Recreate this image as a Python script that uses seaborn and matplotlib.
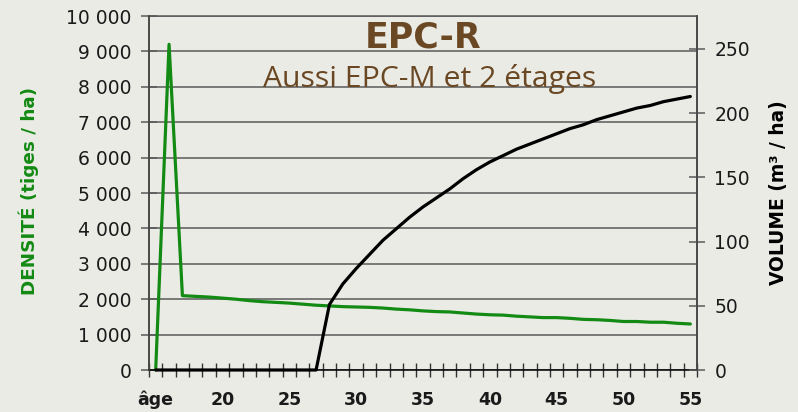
import numpy as np
import pandas as pd
import seaborn as sns
import matplotlib.pyplot as plt
from matplotlib.ticker import FixedLocator, FuncFormatter

# Data
age = [15, 16, 17, 18, 19, 20, 21, 22, 23, 24, 25, 26, 27, 28, 29, 30, 31, 32, 33, 34,
       35, 36, 37, 38, 39, 40, 41, 42, 43, 44, 45, 46, 47, 48, 49, 50, 51, 52, 53, 54, 55]
densite = [0, 9200, 2100, 2080, 2060, 2030, 2000, 1960, 1930, 1910, 1890, 1860, 1830,
           1810, 1790, 1780, 1770, 1750, 1720, 1700, 1670, 1650, 1640, 1610, 1580, 1560,
           1550, 1520, 1500, 1480, 1480, 1460, 1430, 1420, 1400, 1370, 1370, 1350, 1350,
           1320, 1300]
volume = [0, 0, 0, 0, 0, 0, 0, 0, 0, 0, 0, 0, 0,
          51, 67, 79, 90, 101, 110, 119, 127, 134, 141, 149, 156, 162,
          167, 172, 176, 180, 184, 188, 191, 195, 198, 201, 204, 206, 209, 211, 213]
x_labels = {15: "âge", 20: "20", 25: "25", 30: "30", 35: "35",
            40: "40", 45: "45", 50: "50", 55: "55"}

df = pd.DataFrame({"age": age, "densite": densite, "volume": volume})

BG = "#ebebe6"
GREEN = "#138a13"
BROWN = "#6b4824"
GRID = "#5a5a5a"

sns.set_style("white", {"axes.facecolor": BG, "figure.facecolor": BG})
plt.rcParams["font.family"] = ["DejaVu Sans"]

fig = plt.figure(figsize=(7.98, 4.12), dpi=100)
ax = fig.add_axes([149 / 798, 1 - 370 / 412, 548 / 798, 354 / 412])
ax2 = ax.twinx()

sns.lineplot(data=df, x="age", y="densite", ax=ax, color=GREEN, linewidth=2.3)
sns.lineplot(data=df, x="age", y="volume", ax=ax2, color="black", linewidth=2.3)
for a in (ax, ax2):
    for ln in a.get_lines():
        ln.set_clip_on(False)
        ln.set_zorder(3)

# axis ranges (category style x axis)
ax.set_xlim(14.5, 55.5)
ax.set_ylim(0, 10000)
ax2.set_ylim(0, 275.7)

# left axis
ax.yaxis.set_major_locator(FixedLocator(np.arange(0, 10001, 1000)))
ax.yaxis.set_major_formatter(FuncFormatter(lambda v, p: f"{int(v):,}".replace(",", " ")))
ax.grid(axis="y", color=GRID, linewidth=1.1)
ax.set_axisbelow(True)
ax.tick_params(axis="y", direction="inout", length=11, width=1.1, color=GRID,
               pad=7, labelsize=13.5, labelcolor="#1a1a1a", left=True)

# bottom axis: labels on major ticks, tick marks at category boundaries
ax.xaxis.set_major_locator(FixedLocator(list(x_labels.keys())))
ax.set_xticklabels(list(x_labels.values()), fontweight="bold")
ax.xaxis.set_minor_locator(FixedLocator(np.arange(14.5, 55.6, 1)))
ax.tick_params(axis="x", which="major", length=0, pad=15, labelsize=12.5,
               labelcolor="#1a1a1a")
ax.tick_params(axis="x", which="minor", direction="inout", length=10, width=1.0,
               color="#333333", bottom=True)

# right axis
ax2.yaxis.set_major_locator(FixedLocator([0, 50, 100, 150, 200, 250]))
ax2.tick_params(axis="y", direction="inout", length=11, width=1.1, color=GRID,
                pad=7, labelsize=13.5, labelcolor="#1a1a1a", right=True)
ax2.grid(False)

for a in (ax, ax2):
    for s in a.spines.values():
        s.set_color("#444444")
        s.set_linewidth(1.1)
ax.spines["bottom"].set_color("black")
ax2.spines["top"].set_visible(False)
ax2.spines["bottom"].set_visible(False)
ax.spines["top"].set_color(GRID)

ax.set_xlabel("")
ax.set_ylabel("DENSITÉ (tiges / ha)", color=GREEN, fontweight="bold", fontsize=13.2,
              va="center")
ax.yaxis.set_label_coords(-0.219, 0.505)
ax2.set_ylabel("VOLUME (m³ / ha)", color="black", fontweight="bold", fontsize=13.4,
               va="center", rotation=90)
ax2.yaxis.set_label_coords(1.148, 0.50)

fig.text(423 / 798, 1 - 37 / 412, "EPC-R", color=BROWN, fontsize=25,
         fontweight="bold", ha="center", va="center")
fig.text(430 / 798, 1 - 79 / 412, "Aussi EPC-M et 2 étages", color=BROWN,
         fontsize=21.7, family=["Open Sans", "DejaVu Sans"], ha="center", va="center")

fig.savefig("out.png", dpi=100, facecolor=BG)
